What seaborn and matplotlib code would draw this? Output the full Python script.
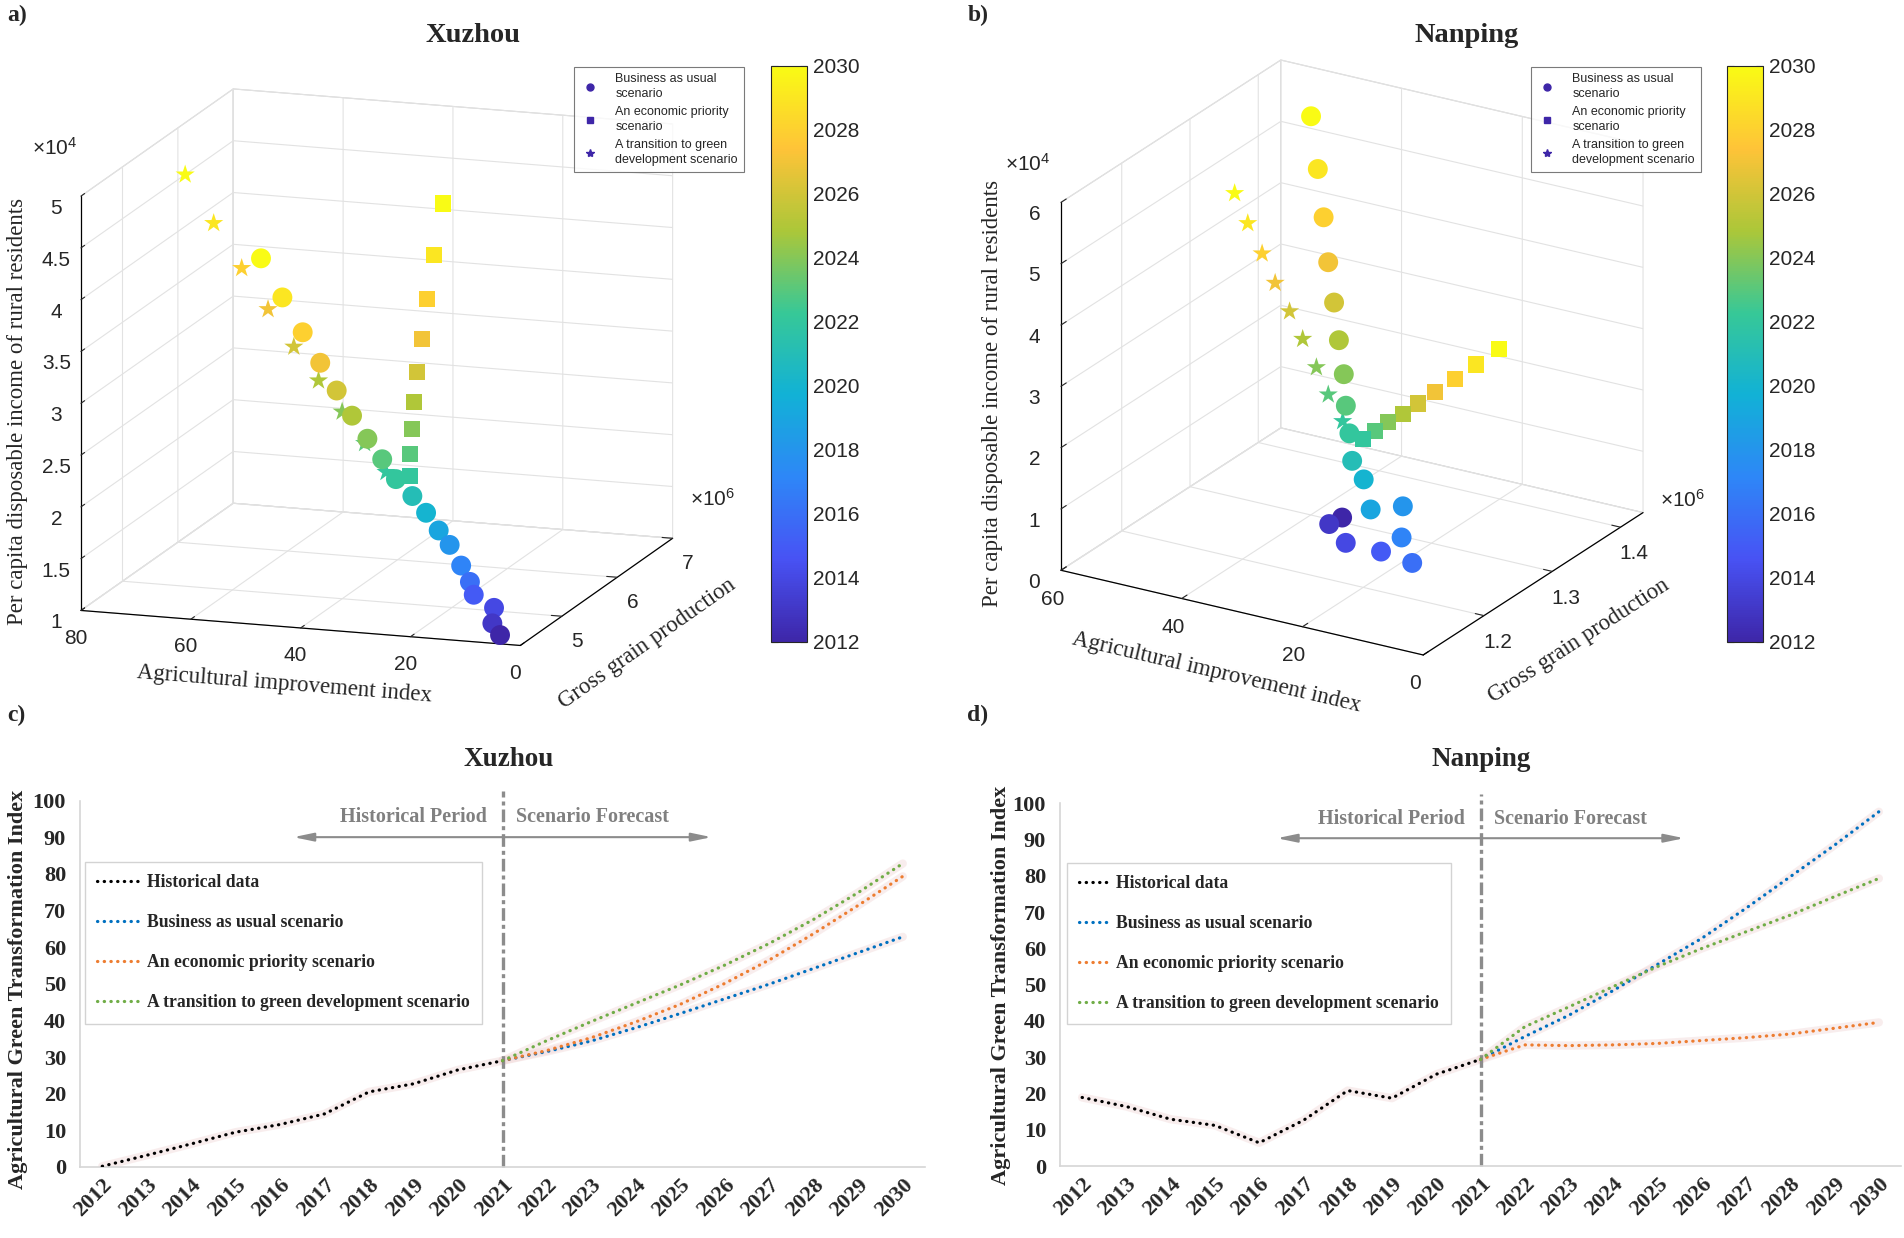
import numpy as np
import matplotlib
matplotlib.use("Agg")
import matplotlib.pyplot as plt
import seaborn as sns
from matplotlib.colors import LinearSegmentedColormap, Normalize
from matplotlib.cm import ScalarMappable
from matplotlib.lines import Line2D
from matplotlib.ticker import FuncFormatter

W, H = 1904, 1238

# ---------------- data ----------------
years = list(range(2012, 2031))
years_fc = list(range(2022, 2031))
years_hist = list(range(2012, 2022))
years_line_fc = list(range(2021, 2031))

# a) Xuzhou: index, grain (x1e6 t), income (x1e4 yuan)
xz_bau_index = [4.3, 6.1, 6.3, 10.5, 11.7, 13.8, 16.4, 18.9, 21.7, 24.7,
                28.2, 31.2, 34.3, 37.6, 40.9, 44.5, 48.2, 52.4, 56.8]
xz_bau_grain = [4.31, 4.35, 4.40, 4.45, 4.50, 4.55, 4.60, 4.65, 4.70, 4.75,
                4.80, 4.85, 4.89, 4.94, 4.99, 5.05, 5.10, 5.15, 5.20]
xz_bau_income = [1.06, 1.15, 1.28, 1.37, 1.47, 1.60, 1.77, 1.88, 2.02, 2.15,
                 2.28, 2.44, 2.61, 2.80, 3.01, 3.24, 3.50, 3.80, 4.14]
xz_eco_index = [25.6, 27.8, 29.7, 31.6, 33.2, 34.6, 35.9, 36.8, 37.3]
xz_eco_grain = [4.80, 5.02, 5.24, 5.46, 5.68, 5.90, 6.12, 6.34, 6.56]
xz_eco_income = [2.32, 2.44, 2.59, 2.76, 2.96, 3.19, 3.49, 3.83, 4.24]
xz_green_index = [30.0, 34.2, 38.7, 43.3, 48.2, 53.2, 58.4, 63.8, 69.4]
xz_green_grain = [4.80, 4.83, 4.87, 4.90, 4.94, 4.97, 5.01, 5.04, 5.08]
xz_green_income = [2.34, 2.59, 2.86, 3.13, 3.42, 3.75, 4.11, 4.51, 4.94]

# b) Nanping
np_bau_index = [24.4, 23.6, 16.9, 9.7, 2.5, 7.2, 11.4, 13.0, 18.0, 20.7,
                22.4, 24.8, 27.4, 30.7, 34.1, 37.9, 41.6, 45.5, 49.9]
np_bau_grain = [1.208, 1.182, 1.147, 1.135, 1.117, 1.143, 1.182, 1.149, 1.183, 1.190,
                1.201, 1.217, 1.237, 1.259, 1.282, 1.307, 1.333, 1.359, 1.388]
np_bau_income = [0.98, 1.08, 1.18, 1.29, 1.40, 1.52, 1.65, 1.80, 1.93, 2.12,
                 2.45, 2.73, 3.04, 3.36, 3.73, 4.12, 4.58, 5.09, 5.64]
np_eco_index = [20.2, 19.7, 19.2, 18.4, 17.9, 17.3, 16.7, 16.1, 15.5]
np_eco_grain = [1.202, 1.214, 1.229, 1.244, 1.262, 1.281, 1.305, 1.331, 1.359]
np_eco_income = [2.40, 2.45, 2.50, 2.55, 2.60, 2.66, 2.72, 2.78, 2.85]
np_green_index = [22.5, 25.0, 27.3, 29.8, 32.2, 34.7, 37.2, 39.8, 42.2]
np_green_grain = [1.192, 1.193, 1.196, 1.198, 1.200, 1.201, 1.204, 1.206, 1.208]
np_green_income = [2.71, 3.08, 3.45, 3.84, 4.22, 4.62, 5.02, 5.44, 5.86]

# c) / d) Agricultural Green Transformation Index
xz_hist = [0.2, 3.2, 6.3, 9.5, 11.6, 14.5, 20.5, 22.7, 26.5, 29.0]
xz_bau = [29.0, 31.5, 34.4, 38.0, 41.9, 45.9, 49.9, 54.2, 58.5, 62.8]
xz_eco = [29.0, 31.8, 35.3, 39.6, 44.4, 50.1, 56.5, 63.7, 71.4, 79.3]
xz_green = [29.0, 34.5, 39.7, 44.7, 49.7, 55.1, 61.0, 67.6, 74.9, 82.8]

np_hist = [18.9, 16.4, 12.9, 11.2, 6.4, 12.6, 20.8, 18.7, 25.3, 29.4]
np_bau = [29.4, 35.7, 41.6, 48.4, 55.6, 62.8, 71.1, 79.8, 88.5, 97.7]
np_eco = [29.4, 33.4, 33.2, 33.4, 33.8, 34.6, 35.4, 36.4, 38.0, 39.6]
np_green = [29.4, 38.4, 43.9, 49.5, 55.0, 60.0, 64.6, 69.2, 74.3, 79.3]

scenario_labels_3d = ["Business as usual\nscenario",
                      "An economic priority\nscenario",
                      "A transition to green\ndevelopment scenario"]
line_labels = ["Historical data", "Business as usual scenario",
               "An economic priority scenario",
               "A transition to green development scenario"]

# ---------------- style ----------------
sns.set_style("white")
plt.rcParams['font.family'] = ['Liberation Sans', 'DejaVu Sans']
plt.rcParams['mathtext.fontset'] = 'custom'
plt.rcParams['mathtext.rm'] = 'Liberation Sans'
plt.rcParams['mathtext.it'] = 'Liberation Sans:italic'
SERIF = ['Liberation Serif', 'DejaVu Serif']

parula = LinearSegmentedColormap.from_list("parula", [
    (0.2422, 0.1504, 0.6603), (0.2810, 0.3228, 0.9579),
    (0.1786, 0.5289, 0.9682), (0.0689, 0.6948, 0.8394),
    (0.2161, 0.7843, 0.5923), (0.6720, 0.7793, 0.2227),
    (0.9970, 0.7659, 0.2199), (0.9769, 0.9839, 0.0805)])
norm = Normalize(2012, 2030)

fig = plt.figure(figsize=(W / 100, H / 100), dpi=100)


def fx(px):
    return px / W


def fy(py):
    return 1 - py / H


def fit_to_box(ax, xlim, ylim, zlim, box):
    # scale/shift the 3d axes so the projected box lands on the target pixels
    fig.canvas.draw()
    M = ax.get_proj()
    pts = []
    for xv in xlim:
        for yv in ylim:
            for zv in zlim:
                p = M @ np.array([xv, yv, zv, 1.0])
                pts.append((p[0] / p[3], p[1] / p[3]))
    pix = ax.transData.transform(np.array(pts))
    x0, y0 = pix.min(axis=0)
    x1, y1 = pix.max(axis=0)
    left, top, right, bottom = box
    s = 0.5 * ((right - left) / (x1 - x0) + (bottom - top) / (y1 - y0))
    pos = ax.get_position()
    cx = (pos.x0 + pos.x1) / 2 * W
    cy = (pos.y0 + pos.y1) / 2 * H
    tx = (left + right) / 2
    ty = H - (top + bottom) / 2
    ncx = tx - s * ((x0 + x1) / 2 - cx)
    ncy = ty - s * ((y0 + y1) / 2 - cy)
    w = pos.width * s
    h = pos.height * s
    ax.set_position([ncx / W - w / 2, ncy / H - h / 2, w, h])


def panel_3d(cfg, bau, eco, green):
    side = 600
    cx, cy = cfg['center']
    ax = fig.add_axes([fx(cx - side / 2), fy(cy + side / 2), side / W, side / H],
                      projection='3d', proj_type='ortho', computed_zorder=False)
    ax.set_facecolor('none')
    ax.view_init(elev=cfg['elev'], azim=cfg['azim'])
    ax.set_box_aspect(cfg['aspect'])

    sc_kw = dict(cmap=parula, norm=norm, edgecolors='none', depthshade=False)
    ax.scatter(green[0], green[1], green[2], c=years_fc, marker='*', s=210, **sc_kw)
    ax.scatter(eco[0], eco[1], eco[2], c=years_fc, marker='s', s=135, **sc_kw)
    ax.scatter(bau[0], bau[1], bau[2], c=years, marker='o', s=205, **sc_kw)

    ax.set_xlim(cfg['xlim'][1], cfg['xlim'][0])
    ax.set_ylim(*cfg['ylim'])
    ax.set_zlim(*cfg['zlim'])
    ax.set_xticks(cfg['xticks'])
    ax.set_yticks(cfg['yticks'])
    ax.set_zticks(cfg['zticks'])
    fmt = FuncFormatter(lambda v, p: f"{v:g}")
    ax.xaxis.set_major_formatter(fmt)
    ax.yaxis.set_major_formatter(fmt)
    ax.zaxis.set_major_formatter(fmt)
    ax.tick_params(axis='both', labelsize=15, pad=2)
    ax.tick_params(axis='z', labelsize=15, pad=4)
    # put the vertical axis on the front-left edge, MATLAB style
    ax.zaxis.set_ticks_position('lower')
    ax.zaxis.set_label_position('lower')

    for axis in (ax.xaxis, ax.yaxis, ax.zaxis):
        axis.set_pane_color((1.0, 1.0, 1.0, 1.0))
        axis.pane.set_edgecolor('#d4d4d4')
        axis.pane.set_linewidth(0.8)
        axis.line.set_color('black')
        axis.line.set_linewidth(0.9)
        axis._axinfo['grid'].update(color='#e2e2e2', linewidth=0.8)
        axis._axinfo['tick'].update(inward_factor=0.0, outward_factor=0.3)

    lab = dict(family=SERIF, fontsize=16.5)
    ax.set_xlabel('Agricultural improvement index', labelpad=10, **lab)
    ax.set_ylabel('Gross grain production', labelpad=12, **lab)
    ax.set_zlabel('Per capita disposable income of rural residents', labelpad=10, **lab)

    fit_to_box(ax, cfg['xlim'], cfg['ylim'], cfg['zlim'], cfg['box'])

    # colorbar
    cl, ct, cw, ch = cfg['cbar']
    cax = fig.add_axes([fx(cl), fy(ct + ch), cw / W, ch / H])
    cb = fig.colorbar(ScalarMappable(norm=norm, cmap=parula), cax=cax)
    cb.set_ticks(list(range(2012, 2031, 2)))
    cax.tick_params(direction='in', length=5, width=0.8, labelsize=15,
                    left=True, right=True, pad=4)
    cb.outline.set_linewidth(0.8)

    # legend
    c0 = parula(0.0)
    handles = [Line2D([], [], ls='', marker='o', ms=5, color=c0),
               Line2D([], [], ls='', marker='s', ms=4.5, color=c0),
               Line2D([], [], ls='', marker='*', ms=6, color=c0)]
    leg = fig.legend(handles, scenario_labels_3d, loc='upper left',
                     bbox_to_anchor=(fx(cfg['legend'][0]), fy(cfg['legend'][1])),
                     fontsize=9, frameon=True, fancybox=False, edgecolor='0.35',
                     borderpad=0.5, labelspacing=0.45, handlelength=1.6,
                     handletextpad=1.2, borderaxespad=0)
    leg.get_frame().set_linewidth(0.8)
    for t in leg.get_texts():
        t.set_linespacing(1.35)

    fig.text(fx(cfg['title'][0]), fy(cfg['title'][1]), cfg['name'], family=SERIF,
             fontsize=20.5, fontweight='bold', ha='center', va='center')
    fig.text(fx(cfg['letter'][0]), fy(cfg['letter'][1]), cfg['letter_txt'], family=SERIF,
             fontsize=17, fontweight='bold', ha='left', va='center')
    fig.text(fx(cfg['zoff'][0]), fy(cfg['zoff'][1]), r'$\times\mathregular{10^{4}}$',
             fontsize=15, ha='center', va='center')
    fig.text(fx(cfg['yoff'][0]), fy(cfg['yoff'][1]), r'$\times\mathregular{10^{6}}$',
             fontsize=15, ha='center', va='center')
    return ax


cfg_a = dict(name='Xuzhou', center=(377, 363), box=(82.6, 87.4, 671, 647),
             elev=13.7, azim=-71.4, aspect=(1, 1.03, 0.92),
             xlim=(0, 80), ylim=(4.25, 7.0), zlim=(1, 5),
             xticks=[0, 20, 40, 60, 80], yticks=[5, 6, 7],
             zticks=[1, 1.5, 2, 2.5, 3, 3.5, 4, 4.5, 5],
             cbar=(771, 66, 36, 576), legend=(574, 67), title=(473, 35),
             letter=(7, 15), letter_txt='a)', zoff=(55, 148), yoff=(713, 499))
cfg_b = dict(name='Nanping', center=(1350, 358), box=(1061, 60, 1643, 655),
             elev=22.9, azim=-59, aspect=(1, 1.01, 0.945),
             xlim=(0, 60), ylim=(1.111, 1.433), zlim=(0, 6),
             xticks=[0, 20, 40, 60], yticks=[1.2, 1.3, 1.4],
             zticks=[0, 1, 2, 3, 4, 5, 6],
             cbar=(1727, 66, 36, 576), legend=(1531, 67), title=(1467, 35),
             letter=(968, 15), letter_txt='b)', zoff=(1028, 164), yoff=(1683, 500))

panel_3d(cfg_a, (xz_bau_index, xz_bau_grain, xz_bau_income),
         (xz_eco_index, xz_eco_grain, xz_eco_income),
         (xz_green_index, xz_green_grain, xz_green_income))
panel_3d(cfg_b, (np_bau_index, np_bau_grain, np_bau_income),
         (np_eco_index, np_eco_grain, np_eco_income),
         (np_green_index, np_green_grain, np_green_income))


# ---------------- line panels ----------------
def panel_line(rect_px, hist, bau, eco, green, cfg):
    left, top, right, bottom = rect_px
    ax = fig.add_axes([fx(left), fy(bottom), (right - left) / W, (bottom - top) / H])
    dot = dict(lw=2.3, linestyle=(0, (0.1, 2.0)), dash_capstyle='round', zorder=3)
    glow = dict(color='#f3dcdc', lw=6, alpha=0.5, legend=False, zorder=1)
    series = [(years_hist, hist, 'black'), (years_line_fc, bau, '#0070C0'),
              (years_line_fc, eco, '#ED7D31'), (years_line_fc, green, '#70AD47')]
    for (xs, ys, col), lbl in zip(series, line_labels):
        sns.lineplot(x=xs, y=ys, ax=ax, **glow)
    for (xs, ys, col), lbl in zip(series, line_labels):
        sns.lineplot(x=xs, y=ys, ax=ax, color=col, label=lbl, **dot)

    ax.set_xlim(2011.5, 2030.5)
    ax.set_ylim(0, 100)
    ax.set_xticks(years)
    ax.set_xticklabels([str(y) for y in years], rotation=45, ha='right',
                       rotation_mode='anchor', fontsize=16, fontweight='bold', family=SERIF)
    ax.set_yticks(range(0, 101, 10))
    ax.set_yticklabels([str(v) for v in range(0, 101, 10)], fontsize=16,
                       fontweight='bold', family=SERIF)
    ax.tick_params(axis='both', length=0)
    ax.tick_params(axis='y', pad=10)
    ax.tick_params(axis='x', pad=6)
    for sp in ('top', 'right'):
        ax.spines[sp].set_visible(False)
    for sp in ('left', 'bottom'):
        ax.spines[sp].set_color('#d6d6d6')
        ax.spines[sp].set_linewidth(1.2)
    ax.set_xlabel('')
    ax.set_ylabel('Agricultural Green Transformation Index', family=SERIF,
                  fontsize=16, fontweight='bold')
    ax.yaxis.set_label_coords(cfg['ylab_x'], cfg['ylab_y'])

    ax.axvline(2021, ymin=0, ymax=1.025, color='#8c8c8c', lw=2.4,
               linestyle=(0, (3.8, 1.2, 1.2, 1.2)), clip_on=False, zorder=2)
    arrow = dict(arrowstyle='-|>,head_length=1.2,head_width=0.25', color='#8c8c8c',
                 lw=1.5, shrinkA=0, shrinkB=0)
    ax.annotate('', xy=(cfg['arrow_l'], cfg['arrow_y']), xytext=(2021, cfg['arrow_y']),
                arrowprops=arrow)
    ax.annotate('', xy=(cfg['arrow_r'], cfg['arrow_y']), xytext=(2021, cfg['arrow_y']),
                arrowprops=arrow)
    gtxt = dict(family=SERIF, fontsize=14.5, fontweight='bold', color='#808080', va='center')
    ax.text(2020.65, cfg['text_y'], 'Historical Period', ha='right', **gtxt)
    ax.text(2021.3, cfg['text_y'], 'Scenario Forecast', ha='left', **gtxt)

    h, l = ax.get_legend_handles_labels()
    leg = ax.legend(h, l, loc='upper left', bbox_to_anchor=cfg['leg'], borderaxespad=0,
                    prop=dict(family=SERIF, size=12.7, weight='bold'), frameon=True,
                    fancybox=False, edgecolor='#c8c8c8', borderpad=0.7,
                    labelspacing=1.3, handlelength=cfg['hl'], handletextpad=0.3)
    leg.get_frame().set_linewidth(1.0)

    fig.text(fx(cfg['title'][0]), fy(cfg['title'][1]), cfg['name'], family=SERIF,
             fontsize=19.5, fontweight='bold', ha='center', va='center')
    fig.text(fx(cfg['letter'][0]), fy(cfg['letter'][1]), cfg['letter_txt'], family=SERIF,
             fontsize=17, fontweight='bold', ha='left', va='center')
    return ax


panel_line((80, 800.5, 925, 1167), xz_hist, xz_bau, xz_eco, xz_green,
           dict(name='Xuzhou', title=(509, 760), letter=(7, 715), letter_txt='c)',
                arrow_l=2016.3, arrow_r=2025.7, arrow_y=90.0, text_y=95.4,
                leg=(0.006, 0.832), hl=2.5, ylab_x=-0.062, ylab_y=0.485))
panel_line((1060, 803.4, 1901, 1166), np_hist, np_bau, np_eco, np_green,
           dict(name='Nanping', title=(1481, 760), letter=(967, 715), letter_txt='d)',
                arrow_l=2016.4, arrow_r=2025.6, arrow_y=90.4, text_y=95.7,
                leg=(0.008, 0.836), hl=1.8, ylab_x=-0.058, ylab_y=0.498))

fig.savefig("out.png", dpi=100)
